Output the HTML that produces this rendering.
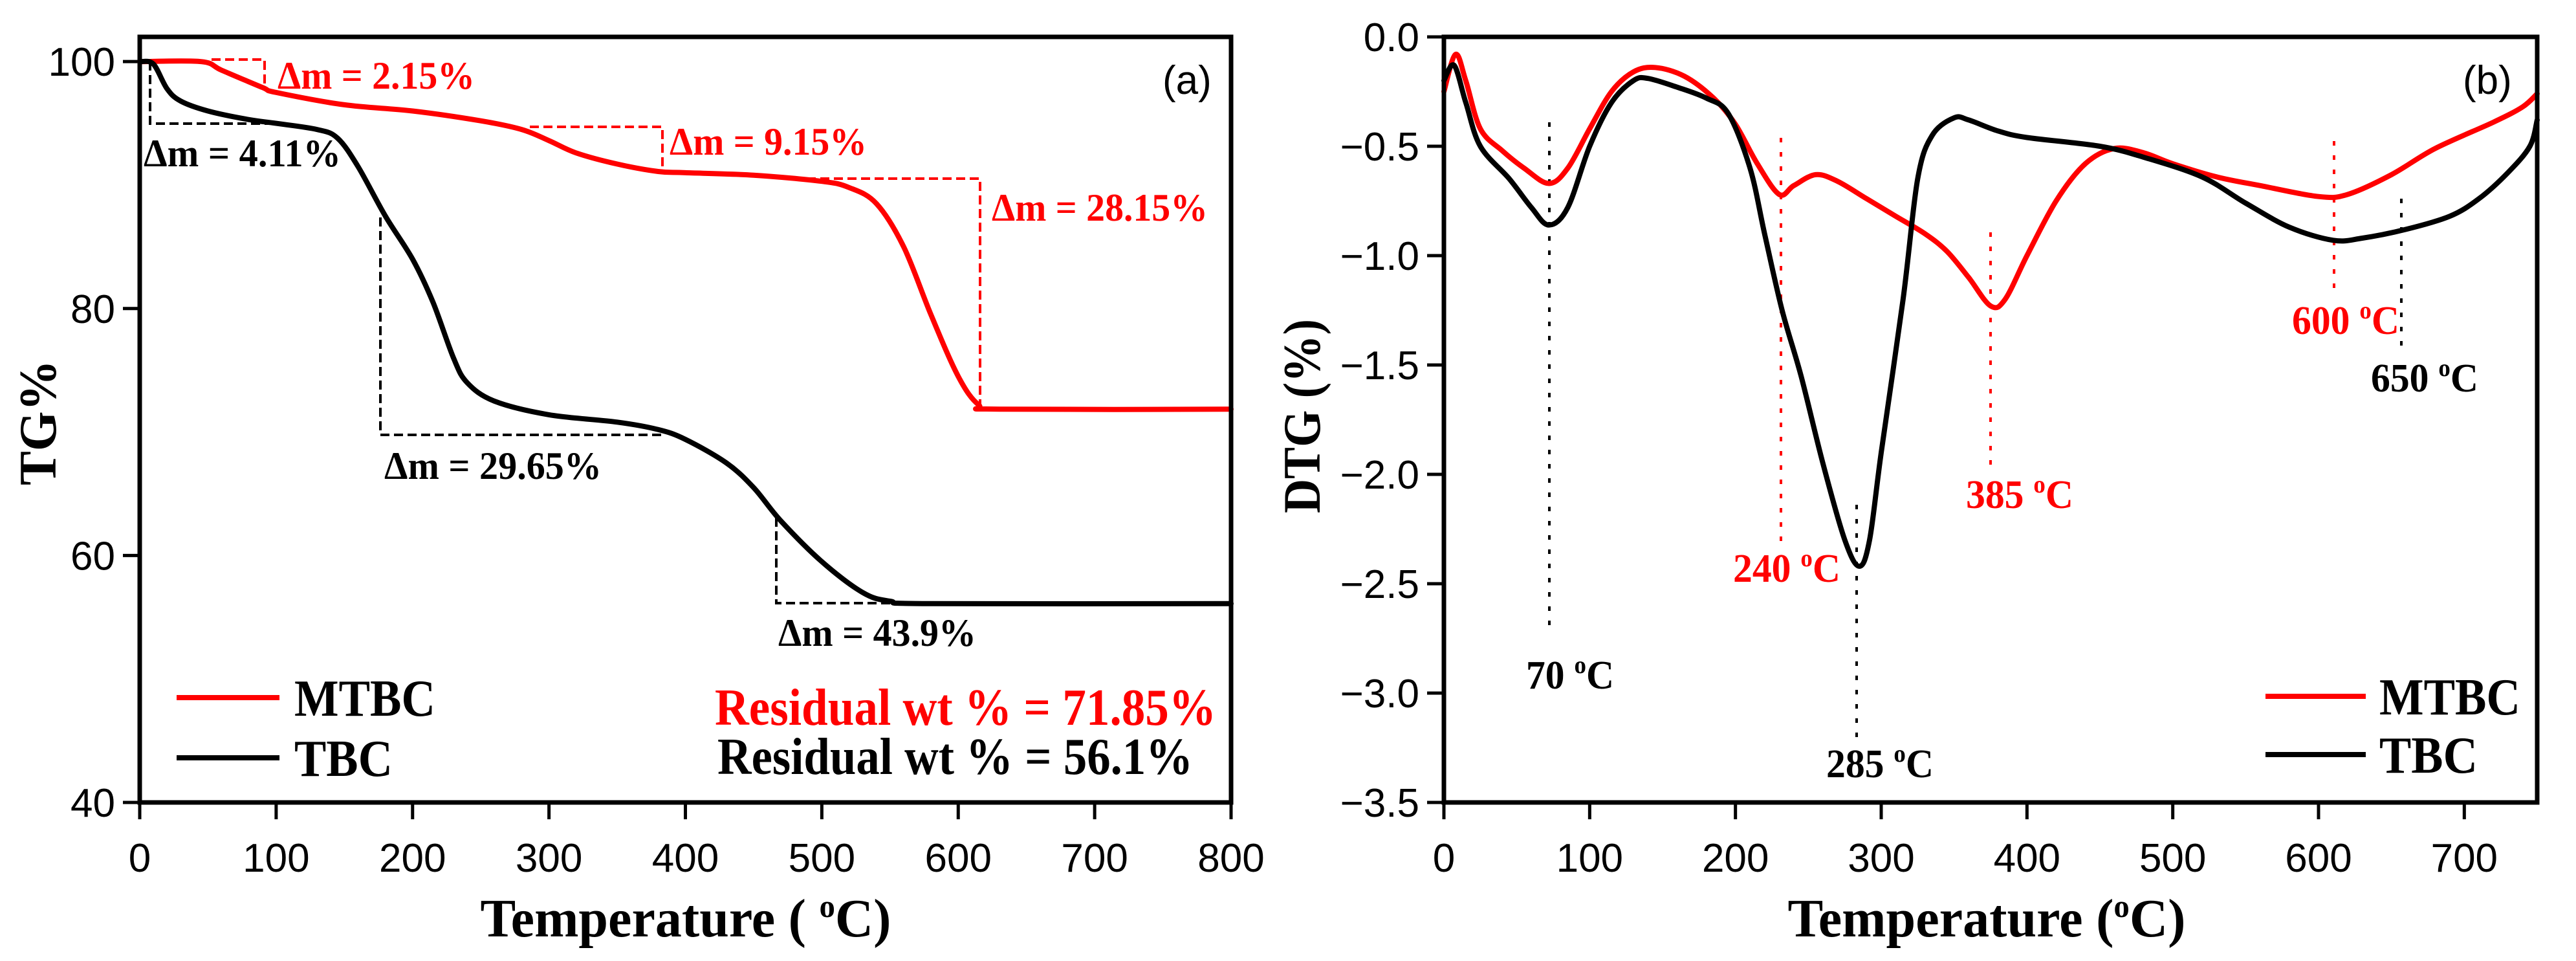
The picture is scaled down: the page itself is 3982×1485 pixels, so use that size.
<!DOCTYPE html>
<html><head><meta charset="utf-8">
<style>
html,body{margin:0;padding:0;background:#fff;}
svg{display:block;}
.tick{font-family:"Liberation Sans",sans-serif;font-size:62px;fill:#000;}
.ser{font-family:"Liberation Serif",serif;font-weight:bold;}
</style></head>
<body>
<svg id="chart" width="3982" height="1485" viewBox="0 0 3982 1485" xmlns="http://www.w3.org/2000/svg">
<g id="pa"></g>
<g id="pb"></g>
</svg>
<script>
// ---------- Panel (a) TG data ----------
const tgTemps = [0,45,60,90,100,150,200,250,280,300,320,350,380,400,450,500,520,540,560,580,600,615,630,800];
const tgMTBC  = [100,100,99.3,97.9,97.5,96.5,96,95.2,94.5,93.6,92.6,91.7,91.1,91,90.8,90.3,89.8,88.5,85,79.5,74.5,72.2,71.85,71.85];
const tgTempsTBC = [0,10,20,30,50,80,100,130,145,160,180,200,215,230,240,260,300,350,380,400,430,450,470,500,530,550,580,800];
const tgTBC   = [100,99.8,97.8,96.8,96,95.3,95,94.5,93.8,91.5,87.5,84,80.5,76,74,72.5,71.4,70.8,70.2,69.4,67.5,65.5,62.8,59.5,57,56.3,56.1,56.1];
const tgXTicks = [0,100,200,300,400,500,600,700,800];
const tgYTicks = [40,60,80,100];

// ---------- Panel (b) DTG data ----------
const dtgTempsM = [0,8,15,25,40,55,72,85,100,115,130,145,165,185,200,215,230,240,255,270,290,310,330,345,360,375,385,400,420,440,460,480,500,530,560,600,620,650,680,720,740,750];
const dtgMTBC   = [-0.25,-0.08,-0.2,-0.42,-0.52,-0.6,-0.67,-0.6,-0.42,-0.25,-0.16,-0.14,-0.18,-0.28,-0.4,-0.58,-0.72,-0.68,-0.63,-0.66,-0.74,-0.82,-0.9,-0.98,-1.1,-1.23,-1.2,-1.0,-0.75,-0.58,-0.51,-0.53,-0.58,-0.64,-0.68,-0.73,-0.72,-0.63,-0.51,-0.39,-0.32,-0.26];
const dtgTempsT = [0,7,15,25,45,60,72,85,100,115,130,140,160,180,195,210,220,232,245,260,275,285,292,300,315,325,335,350,360,380,400,450,480,520,550,580,610,630,660,690,710,730,745,750];
const dtgTBC    = [-0.2,-0.13,-0.3,-0.5,-0.65,-0.78,-0.86,-0.78,-0.5,-0.3,-0.2,-0.19,-0.23,-0.28,-0.35,-0.6,-0.9,-1.25,-1.55,-1.95,-2.3,-2.42,-2.3,-1.9,-1.2,-0.65,-0.45,-0.37,-0.38,-0.43,-0.46,-0.5,-0.55,-0.64,-0.76,-0.87,-0.93,-0.92,-0.88,-0.82,-0.74,-0.62,-0.5,-0.38];
const dtgXTicks = [0,100,200,300,400,500,600,700];
const dtgYTicks = [0,-0.5,-1,-1.5,-2,-2.5,-3,-3.5];
const dtgYLabels = ["0.0","\u22120.5","\u22121.0","\u22121.5","\u22122.0","\u22122.5","\u22123.0","\u22123.5"];

const NS="http://www.w3.org/2000/svg";
function mk(parent,tag,attrs,text){const e=document.createElementNS(NS,tag);for(const k in attrs)e.setAttribute(k,attrs[k]);if(text!==undefined)e.textContent=text;parent.appendChild(e);return e;}

const A={x0:216,x1:1903,y0:1240,y1:57,xmin:0,xmax:800,ymin:40,ymax:102};
const B={x0:2232,x1:3922,y0:1240,y1:57,xmin:0,xmax:750,ymin:-3.5,ymax:0};
function sx(ax,v){return ax.x0+(v-ax.xmin)/(ax.xmax-ax.xmin)*(ax.x1-ax.x0);}
function sy(ax,v){return ax.y0-(v-ax.ymin)/(ax.ymax-ax.ymin)*(ax.y0-ax.y1);}

function smoothPath(ax,xs,ys){
  const p=xs.map((x,i)=>[sx(ax,x),sy(ax,ys[i])]);
  let d="M"+p[0][0].toFixed(1)+","+p[0][1].toFixed(1);
  for(let i=0;i<p.length-1;i++){
    const p0=p[Math.max(0,i-1)],p1=p[i],p2=p[i+1],p3=p[Math.min(p.length-1,i+2)];
    const c1=[p1[0]+(p2[0]-p0[0])/6,p1[1]+(p2[1]-p0[1])/6];
    const c2=[p2[0]-(p3[0]-p1[0])/6,p2[1]-(p3[1]-p1[1])/6];
    d+=" C"+c1[0].toFixed(1)+","+c1[1].toFixed(1)+" "+c2[0].toFixed(1)+","+c2[1].toFixed(1)+" "+p2[0].toFixed(1)+","+p2[1].toFixed(1);
  }
  return d;
}

function drawAxes(g,ax,xt,yt,ylab){
  xt.forEach(v=>{
    const x=sx(ax,v);
    const t=mk(g,"line",{x1:x,x2:x,y1:ax.y0,y2:ax.y0+26,stroke:"#000","stroke-width":5});
    
    
    const l=mk(g,"text",{x:x,y:1347,"text-anchor":"middle",class:"tick"},String(v));
    
    
  });
  yt.forEach((v,i)=>{
    const y=sy(ax,v);
    const t=mk(g,"line",{x1:ax.x0-26,x2:ax.x0,y1:y,y2:y,stroke:"#000","stroke-width":5});
    
    
    const l=mk(g,"text",{x:ax.x0-38,y:y+22,"text-anchor":"end",class:"tick"},ylab?ylab[i]:String(v));
    
    
  });
}

function series(g,ax,xs,ys,color,name){
  const p=mk(g,"path",{d:smoothPath(ax,xs,ys),fill:"none",stroke:color,"stroke-width":8,"stroke-linejoin":"round","stroke-linecap":"round"});
  
  
}

function frame(g,ax,name){
  const r=mk(g,"rect",{x:ax.x0,y:ax.y1,width:ax.x1-ax.x0,height:ax.y0-ax.y1,fill:"none",stroke:"#000","stroke-width":7});
  
  
}

function seg(g,pts,color,dash,w,name){
  const p=mk(g,"polyline",{points:pts,fill:"none",stroke:color,"stroke-width":w,"stroke-dasharray":dash});
  
  
}
function txt(g,x,y,s,size,color,name,len,anchor){
  const a={x:x,y:y,class:"ser","font-size":size,fill:color};
  if(len){a.textLength=len;a.lengthAdjust="spacingAndGlyphs";}
  if(anchor)a["text-anchor"]=anchor;
  const t=mk(g,"text",a,s);
  
  
  return t;
}
function degText(g,x,y,num,size,color,name,len){
  const t=mk(g,"text",{x:x,y:y,class:"ser","font-size":size,fill:color,textLength:len,lengthAdjust:"spacingAndGlyphs"});
  
  
  mk(t,"tspan",{},num+" ");
  mk(t,"tspan",{dy:-24,"font-size":size*0.62},"o");
  mk(t,"tspan",{dy:24},"C");
}

// ---------- Panel A ----------
const ga=document.getElementById('pa');
drawAxes(ga,A,tgXTicks,tgYTicks);
series(ga,A,tgTemps,tgMTBC,"#ff0000","mtbc-tg-curve");
series(ga,A,tgTempsTBC,tgTBC,"#000","tbc-tg-curve");
seg(ga,"327,92 409,92 409,133","#ff0000","14 7",4,"dm-2-15-bracket");
seg(ga,"232,95 232,191 420,191","#000","14 7",4,"dm-4-11-bracket");
seg(ga,"819,196 1024,196 1024,265","#ff0000","14 7",4,"dm-9-15-bracket");
seg(ga,"1226,276 1515,276 1515,629","#ff0000","14 7",4,"dm-28-15-bracket");
seg(ga,"588,336 588,672 1029,672","#000","14 7",4,"dm-29-65-bracket");
seg(ga,"1200,800 1200,932 1397,932","#000","14 7",4,"dm-43-9-bracket");
txt(ga,429,137,"\u0394m = 2.15%",60,"#ff0000","dm-2-15-label",305);
txt(ga,222,257,"\u0394m = 4.11%",60,"#000","dm-4-11-label",305);
txt(ga,1035,239,"\u0394m = 9.15%",60,"#ff0000","dm-9-15-label",305);
txt(ga,1533,341,"\u0394m = 28.15%",60,"#ff0000","dm-28-15-label",334);
txt(ga,594,740,"\u0394m = 29.65%",60,"#000","dm-29-65-label",336);
txt(ga,1203,998,"\u0394m = 43.9%",60,"#000","dm-43-9-label",306);
txt(ga,1105,1120,"Residual wt % = 71.85%",80,"#ff0000","residual-mtbc-label",775);
txt(ga,1109,1196,"Residual wt % = 56.1%",80,"#000","residual-tbc-label",735);
seg(ga,"273,1078 432,1078","#ff0000","none",8,"legend-mtbc-line");
txt(ga,455,1106,"MTBC",80,"#000","legend-mtbc-label",218);
seg(ga,"273,1171 432,1171","#000","none",8,"legend-tbc-line");
txt(ga,455,1199,"TBC",80,"#000","legend-tbc-label",152);
const la=mk(ga,"text",{x:1797,y:145,class:"tick","font-size":66},"(a)");


frame(ga,A,"tg-plot-frame");
const yta=txt(ga,0,0,"TG%",82,"#000","y-axis-title-tg",194,"middle");
yta.setAttribute("transform","translate(86,653) rotate(-90)");
const xta=mk(ga,"text",{x:1060,y:1447,class:"ser","font-size":84,"text-anchor":"middle",textLength:635,lengthAdjust:"spacingAndGlyphs"});


mk(xta,"tspan",{},"Temperature ( ");mk(xta,"tspan",{dy:-30,"font-size":50},"o");mk(xta,"tspan",{dy:30},"C)");

// ---------- Panel B ----------
const gb=document.getElementById('pb');
drawAxes(gb,B,dtgXTicks,dtgYTicks,dtgYLabels);
seg(gb,"2395,189 2395,974","#000","7 15",4,"marker-70c");
seg(gb,"2753,213 2753,842","#ff0000","7 15",4,"marker-240c");
seg(gb,"2870,780 2870,1150","#000","7 15",4,"marker-285c");
seg(gb,"3077,359 3077,728","#ff0000","7 15",4,"marker-385c");
seg(gb,"3608,218 3608,454","#ff0000","7 15",4,"marker-600c");
seg(gb,"3712,307 3712,539","#000","7 15",4,"marker-650c");
series(gb,B,dtgTempsM,dtgMTBC,"#ff0000","mtbc-dtg-curve");
series(gb,B,dtgTempsT,dtgTBC,"#000","tbc-dtg-curve");
degText(gb,2359,1064,"70",62,"#000","label-70c",136);
degText(gb,2679,899,"240",62,"#ff0000","label-240c",166);
degText(gb,2823,1201,"285",62,"#000","label-285c",166);
degText(gb,3039,785,"385",62,"#ff0000","label-385c",166);
degText(gb,3543,516,"600",62,"#ff0000","label-600c",166);
degText(gb,3665,605,"650",62,"#000","label-650c",166);
seg(gb,"3502,1076 3657,1076","#ff0000","none",8,"legend-mtbc-line-b");
txt(gb,3678,1104,"MTBC",80,"#000","legend-mtbc-label-b",218);
seg(gb,"3502,1166 3657,1166","#000","none",8,"legend-tbc-line-b");
txt(gb,3678,1194,"TBC",80,"#000","legend-tbc-label-b",152);
const lb=mk(gb,"text",{x:3807,y:145,class:"tick","font-size":66},"(b)");


frame(gb,B,"dtg-plot-frame");
const ytb=txt(gb,0,0,"DTG (%)",82,"#000","y-axis-title-dtg",300,"middle");
ytb.setAttribute("transform","translate(2040,643) rotate(-90)");
const xtb=mk(gb,"text",{x:3071,y:1447,class:"ser","font-size":84,"text-anchor":"middle",textLength:615,lengthAdjust:"spacingAndGlyphs"});


mk(xtb,"tspan",{},"Temperature (");mk(xtb,"tspan",{dy:-30,"font-size":50},"o");mk(xtb,"tspan",{dy:30},"C)");
</script>
</body></html>
